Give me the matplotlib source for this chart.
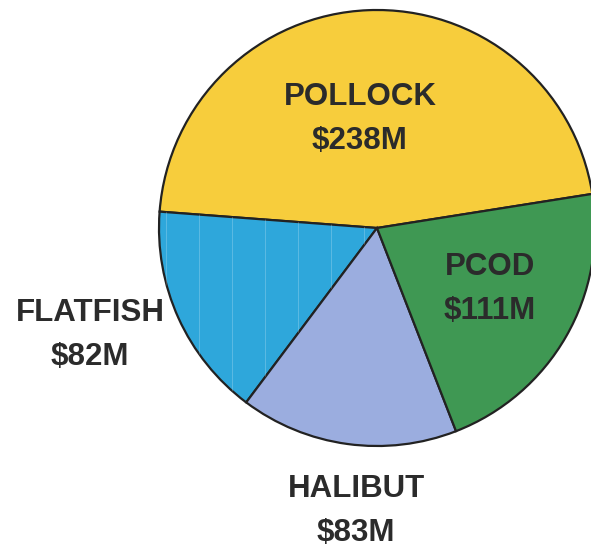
import numpy as np
import matplotlib.pyplot as plt

# Ex-vessel value by species group, $ millions
species = ["POLLOCK", "FLATFISH", "HALIBUT", "PCOD"]
values = [238, 82, 83, 111]
colors = ["#F7CD3C", "#2EA7DB", "#9BADDF", "#3F9853"]

# label block centres (pixels from the lower-left corner)
label_pos = {
    "POLLOCK": (360, 429),
    "FLATFISH": (90, 213),
    "HALIBUT": (356, 37),
    "PCOD": (490, 259),
}

W, H = 591, 548
fig = plt.figure(figsize=(W / 100, H / 100), dpi=100)
ax = fig.add_axes([0, 0, 1, 1])

wedges, _ = ax.pie(values, colors=colors, startangle=9, counterclock=True,
                   center=(377, 320), radius=218,
                   wedgeprops=dict(edgecolor="#222222", linewidth=1.6))
ax.set_xlim(0, W)
ax.set_ylim(0, H)
ax.set_aspect("equal")
ax.axis("off")

# faint vertical streaks in the flatfish slice
fw = wedges[species.index("FLATFISH")]
for x in np.arange(166, 380, 33):
    ln, = ax.plot([x, x], [0, H], color="white", lw=0.6, alpha=0.25)
    ln.set_clip_path(fw)

for name, val in zip(species, values):
    x, y = label_pos[name]
    ax.text(x, y, f"{name}\n${val}M", ha="center", va="center",
            fontsize=22.5, fontweight="bold", color="#2b2b2b",
            family="Liberation Sans", linespacing=1.6)

fig.savefig("out.png", dpi=100)
